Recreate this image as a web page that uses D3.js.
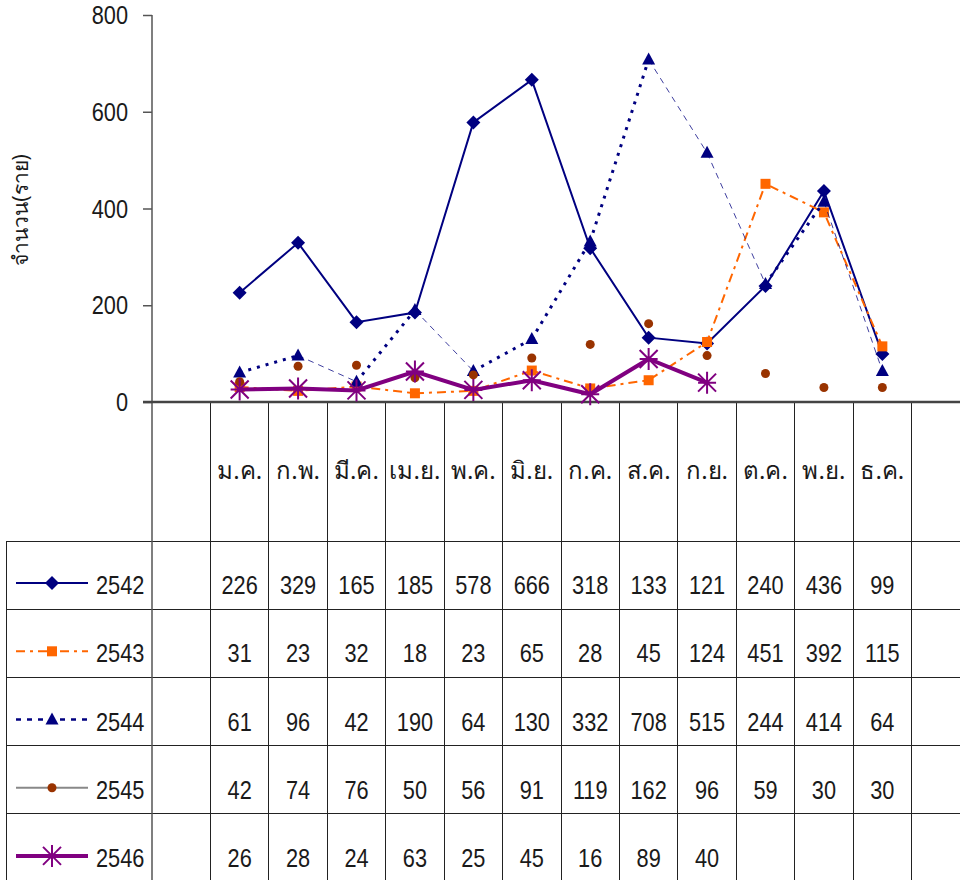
<!DOCTYPE html>
<html>
<head>
<meta charset="utf-8">
<script src="https://cdn.jsdelivr.net/npm/d3@7"></script>
<style>
  body { margin: 0; background: #fff; }
  svg text { font-family: "Liberation Sans", Arial, sans-serif; fill: #1a1a1a; }
  svg text.thai { font-family: "Noto Sans", "DejaVu Sans", sans-serif; }
</style>
</head>
<body>
<svg id="chart" width="960" height="880"></svg>
<script>
// data
var months = ['ม.ค.', 'ก.พ.', 'มี.ค.', 'เม.ย.', 'พ.ค.', 'มิ.ย.', 'ก.ค.', 'ส.ค.', 'ก.ย.', 'ต.ค.', 'พ.ย.', 'ธ.ค.'];
var years = ['2542', '2543', '2544', '2545', '2546'];
var v2542 = [226, 329, 165, 185, 578, 666, 318, 133, 121, 240, 436, 99];
var v2543 = [31, 23, 32, 18, 23, 65, 28, 45, 124, 451, 392, 115];
var v2544 = [61, 96, 42, 190, 64, 130, 332, 708, 515, 244, 414, 64];
var v2545 = [42, 74, 76, 50, 56, 91, 119, 162, 96, 59, 30, 30];
var v2546 = [26, 28, 24, 63, 25, 45, 16, 89, 40];
var yTicks = [0, 200, 400, 600, 800];
var yTitle = 'จำนวน(ราย)';

var svg = d3.select('#chart');
var navy = '#000080', orange = '#ff6600', brown = '#993300', purple = '#800080';
var squeeze = 0.87; // digits in the original are a bit narrower than Liberation Sans

// 14 slots on the category axis, first and last stay empty
var slots = ['_a'].concat(months, ['_b']);
var x = d3.scaleBand().domain(slots).range([152, 970]);
var y = d3.scaleLinear().domain([0, 800]).range([402, 15]);
var cx = function (i) { return x(months[i]) + x.bandwidth() / 2; };

var tableTop = 541, rowH = 68.2, tableLeft = 6;

function numText(g, px, py, str, anchor) {
  return g.append('text')
    .attr('transform', 'translate(' + px + ',' + py + ') scale(' + squeeze + ',1)')
    .attr('text-anchor', anchor || 'middle')
    .style('font-size', '25px')
    .text(str);
}

// table grid
var grid = svg.append('g').attr('shape-rendering', 'crispEdges');
slots.forEach(function (s, i) {
  if (i === 0) return;
  grid.append('line')
    .attr('x1', x(s)).attr('x2', x(s))
    .attr('y1', 402).attr('y2', 880)
    .attr('stroke', '#222').attr('stroke-width', 1);
});
grid.append('line')
  .attr('x1', tableLeft).attr('x2', tableLeft)
  .attr('y1', tableTop).attr('y2', 880)
  .attr('stroke', '#222');
for (var r = 0; r <= years.length; r++) {
  grid.append('line')
    .attr('x1', tableLeft).attr('x2', 960)
    .attr('y1', tableTop + r * rowH).attr('y2', tableTop + r * rowH)
    .attr('stroke', '#222');
}

// y axis
var yAxis = svg.append('g')
  .attr('transform', 'translate(152,0)')
  .call(d3.axisLeft(y).tickValues(yTicks).tickSize(9).tickFormat(''));
yAxis.select('.domain').remove();
yAxis.selectAll('.tick line').attr('stroke', '#555').attr('stroke-width', 1.5);
yAxis.selectAll('.tick').each(function (d) {
  numText(d3.select(this), -24, 8.5, d, 'end').attr('fill', '#222');
});
svg.append('line')
  .attr('x1', 152).attr('x2', 152).attr('y1', y(800)).attr('y2', 880)
  .attr('stroke', '#555').attr('stroke-width', 1.5);
svg.append('line')
  .attr('x1', 143).attr('x2', 960).attr('y1', y(0)).attr('y2', y(0))
  .attr('stroke', '#444').attr('stroke-width', 2.5);

svg.append('text')
  .attr('class', 'thai')
  .attr('transform', 'translate(28,210) rotate(-90)')
  .attr('text-anchor', 'middle')
  .style('font-size', '21px')
  .attr('fill', '#222')
  .text(yTitle);

// month labels
svg.append('g').selectAll('text').data(months).enter().append('text')
  .attr('class', 'thai')
  .attr('x', function (d, i) { return cx(i); })
  .attr('y', 479)
  .attr('text-anchor', 'middle')
  .style('font-size', '24px')
  .attr('fill', '#222')
  .text(function (d) { return d; });

// markers
function marker(g, type, px, py, color) {
  if (type === 'diamond') {
    g.append('path').attr('d', 'M0,-7L7,0L0,7L-7,0Z')
      .attr('transform', 'translate(' + px + ',' + py + ')').attr('fill', color);
  } else if (type === 'square') {
    g.append('rect').attr('x', px - 5).attr('y', py - 5).attr('width', 10).attr('height', 10).attr('fill', color);
  } else if (type === 'triangle') {
    g.append('path').attr('d', 'M0,-7L6.5,5L-6.5,5Z')
      .attr('transform', 'translate(' + px + ',' + py + ')').attr('fill', color);
  } else if (type === 'dot') {
    g.append('circle').attr('cx', px).attr('cy', py).attr('r', 4.5).attr('fill', color);
  } else if (type === 'star') {
    g.append('path')
      .attr('d', 'M-9,-9L9,9M-9,9L9,-9M0,-11L0,11M-9,0L9,0')
      .attr('transform', 'translate(' + px + ',' + py + ')')
      .attr('stroke', color).attr('stroke-width', 2).attr('fill', 'none');
  }
}

var series = [
  { name: '2542', values: v2542, color: navy, marker: 'diamond', line: { w: 2, dash: null } },
  { name: '2543', values: v2543, color: orange, marker: 'square', line: { w: 2, dash: '9,5,3,5' } },
  { name: '2544', values: v2544, color: navy, marker: 'triangle', line: { w: 3, dash: '3,6' } },
  { name: '2545', values: v2545, color: brown, marker: 'dot', line: null, keyColor: '#888' },
  { name: '2546', values: v2546, color: purple, marker: 'star', line: { w: 4, dash: null } }
];

var plot = svg.append('g');
var lineGen = d3.line().x(function (d, i) { return cx(i); }).y(function (d) { return y(d); });

series.forEach(function (s) {
  var g = plot.append('g');
  if (s.name === '2544') {
    // rising parts drawn heavy dotted, falling parts thin dashed
    for (var i = 0; i < s.values.length - 1; i++) {
      var up = s.values[i + 1] >= s.values[i];
      g.append('line')
        .attr('x1', cx(i)).attr('y1', y(s.values[i]))
        .attr('x2', cx(i + 1)).attr('y2', y(s.values[i + 1]))
        .attr('stroke', navy)
        .attr('stroke-width', up ? 3 : 1)
        .attr('stroke-dasharray', up ? '3,6' : '6,5')
        .attr('opacity', up ? 1 : 0.75);
    }
  } else if (s.line) {
    g.append('path').datum(s.values)
      .attr('d', lineGen)
      .attr('fill', 'none')
      .attr('stroke', s.color)
      .attr('stroke-width', s.line.w)
      .attr('stroke-dasharray', s.line.dash);
  }
  s.values.forEach(function (v, i) { marker(g, s.marker, cx(i), y(v), s.color); });
});

// legend keys and value rows
series.forEach(function (s, r) {
  var midY = tableTop + r * rowH + rowH / 2;
  var g = svg.append('g');
  var lineY = midY + 8;
  g.append('line')
    .attr('x1', 16).attr('x2', 88).attr('y1', lineY).attr('y2', lineY)
    .attr('stroke', s.keyColor || s.color)
    .attr('stroke-width', s.name === '2544' ? 2.5 : (s.line ? s.line.w : 2))
    .attr('stroke-dasharray', s.name === '2544' ? '5,6' : (s.line ? s.line.dash : null));
  marker(g, s.marker, 52, lineY, s.color);
  numText(g, 96, midY + 19, s.name, 'start');
  s.values.forEach(function (v, i) { numText(g, cx(i), midY + 19, v); });
});
</script>
</body>
</html>
